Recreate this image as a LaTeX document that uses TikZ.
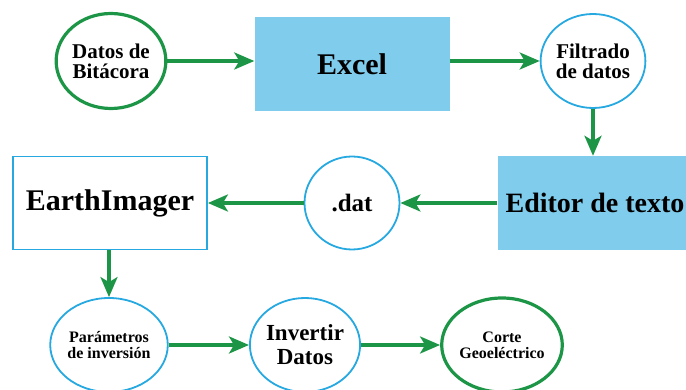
\documentclass[tikz,border=0pt]{standalone}
\usepackage{fontspec}
\setmainfont{Liberation Serif}
\usetikzlibrary{shapes.geometric,arrows.meta}

\definecolor{flowgreen}{RGB}{28,150,70}
\definecolor{flowblue}{RGB}{38,168,224}
\definecolor{boxfill}{RGB}{128,204,236}

\tikzset{
  greenell/.style={ellipse, draw=flowgreen, line width=3.2pt, inner sep=0pt, align=center},
  blueell/.style={ellipse, draw=flowblue, line width=1.8pt, inner sep=0pt, align=center},
  fillbox/.style={rectangle, fill=boxfill, inner sep=0pt, minimum width=195pt, minimum height=94pt},
  linebox/.style={rectangle, draw=flowblue, line width=1.8pt, inner sep=0pt, minimum width=194pt, minimum height=93pt},
  flow/.style={draw=flowgreen, line width=3.2pt, -{Stealth[length=20pt,width=17pt,inset=5pt]}}
}

\newcommand{\fs}[2]{\bfseries\fontsize{#1}{#2}\selectfont}

\begin{document}
\begin{tikzpicture}[x=1pt,y=-1pt]

\useasboundingbox (0,0) rectangle (686,390);
\clip (0,0) rectangle (686,390);

% first row
\node[greenell, minimum width=98pt, minimum height=95pt, font=\fs{21}{20}] (bitacora) at (111,61) {Datos de\\Bitácora};
\node[fillbox, font=\fs{30}{32}] (excel) at (352,64) {Excel};
\node[blueell, minimum width=95pt, minimum height=94pt, font=\fs{21}{20}] (filtrado) at (593,61) {Filtrado\\de datos};

% second row (text editor box runs off the page)
\node[fillbox, font=\fs{28}{30}] (editor) at (595,203) {Editor de texto};
\node[blueell, minimum width=95pt, minimum height=93pt, font=\fs{25}{26}] (dat) at (352,203) {.dat};
\node[linebox, font=\fs{30}{32}] (earth) at (110,203) {EarthImager};

% third row
\node[blueell, minimum width=102pt, minimum height=94pt, font=\fs{16}{16}] (param) at (109,345) {Parámetros\\de inversión};
\node[blueell, minimum width=100pt, minimum height=94pt, font=\fs{23}{24}] (invertir) at (305,345) {Invertir\\Datos};
\node[greenell, minimum width=95pt, minimum height=94pt, font=\fs{16}{16}] (corte) at (502,345) {Corte\\Geoeléctrico};

% connectors
\draw[flow] (bitacora.east) -- (bitacora.east -| excel.west);
\draw[flow] (excel.east |- filtrado.west) -- (filtrado.west);
\draw[flow] (filtrado.south) -- (filtrado.south |- editor.north);
\draw[flow] (editor.west) -- (dat.east);
\draw[flow] (dat.west) -- (earth.east);
\draw[flow] (earth.south -| param.north) -- (param.north);
\draw[flow] (param.east) -- (invertir.west);
\draw[flow] (invertir.east) -- (corte.west);

\end{tikzpicture}
\end{document}
